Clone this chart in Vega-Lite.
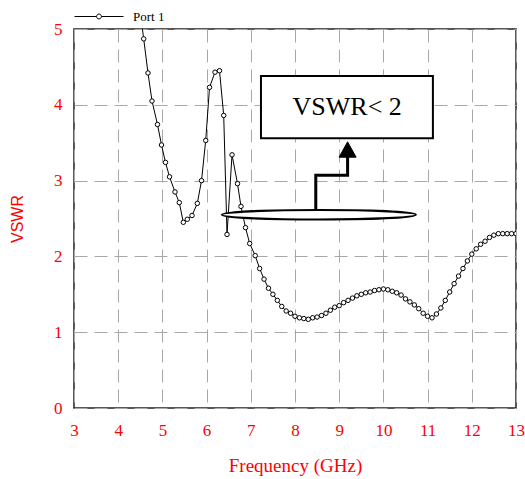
{
  "$schema": "https://vega.github.io/schema/vega-lite/v6.json",
  "width": 442,
  "height": 379,
  "autosize": {"type": "none"},
  "padding": {"left": 74, "top": 29, "right": 9, "bottom": 71},
  "background": "white",
  "config": {
    "view": {"stroke": "#222222", "strokeWidth": 1.5},
    "axis": {
      "domain": false,
      "ticks": false,
      "grid": true,
      "gridColor": "#a8a8a8",
      "gridDash": [13, 7],
      "gridWidth": 1,
      "labelColor": "#ff0000",
      "labelFont": "Liberation Serif",
      "labelFontSize": 17,
      "titleColor": "#ff0000",
      "titleFontWeight": "normal"
    }
  },
  "datasets": {
    "curve": [
      {"f": 4.48, "v": 5.31, "series": "Port 1"},
      {"f": 4.577, "v": 4.87, "series": "Port 1"},
      {"f": 4.674, "v": 4.42, "series": "Port 1"},
      {"f": 4.765, "v": 4.05, "series": "Port 1"},
      {"f": 4.889, "v": 3.74, "series": "Port 1"},
      {"f": 4.98, "v": 3.47, "series": "Port 1"},
      {"f": 5.07, "v": 3.24, "series": "Port 1"},
      {"f": 5.161, "v": 3.05, "series": "Port 1"},
      {"f": 5.285, "v": 2.85, "series": "Port 1"},
      {"f": 5.382, "v": 2.71, "series": "Port 1"},
      {"f": 5.473, "v": 2.45, "series": "Port 1"},
      {"f": 5.563, "v": 2.49, "series": "Port 1"},
      {"f": 5.67, "v": 2.54, "series": "Port 1"},
      {"f": 5.79, "v": 2.7, "series": "Port 1"},
      {"f": 5.885, "v": 3.0, "series": "Port 1"},
      {"f": 5.98, "v": 3.53, "series": "Port 1"},
      {"f": 6.066, "v": 4.23, "series": "Port 1"},
      {"f": 6.19, "v": 4.43, "series": "Port 1"},
      {"f": 6.292, "v": 4.45, "series": "Port 1"},
      {"f": 6.387, "v": 3.86, "series": "Port 1"},
      {"f": 6.462, "v": 2.29, "series": "Port 1"},
      {"f": 6.575, "v": 3.34, "series": "Port 1"},
      {"f": 6.699, "v": 2.96, "series": "Port 1"},
      {"f": 6.778, "v": 2.66, "series": "Port 1"},
      {"f": 6.88, "v": 2.38, "series": "Port 1"},
      {"f": 6.975, "v": 2.17, "series": "Port 1"},
      {"f": 7.1, "v": 2.01, "series": "Port 1"},
      {"f": 7.2, "v": 1.84, "series": "Port 1"},
      {"f": 7.3, "v": 1.7, "series": "Port 1"},
      {"f": 7.4, "v": 1.58, "series": "Port 1"},
      {"f": 7.5, "v": 1.5, "series": "Port 1"},
      {"f": 7.6, "v": 1.42, "series": "Port 1"},
      {"f": 7.7, "v": 1.34, "series": "Port 1"},
      {"f": 7.8, "v": 1.28, "series": "Port 1"},
      {"f": 7.9, "v": 1.25, "series": "Port 1"},
      {"f": 8.0, "v": 1.21, "series": "Port 1"},
      {"f": 8.1, "v": 1.19, "series": "Port 1"},
      {"f": 8.2, "v": 1.18, "series": "Port 1"},
      {"f": 8.3, "v": 1.17, "series": "Port 1"},
      {"f": 8.4, "v": 1.19, "series": "Port 1"},
      {"f": 8.5, "v": 1.2, "series": "Port 1"},
      {"f": 8.6, "v": 1.22, "series": "Port 1"},
      {"f": 8.7, "v": 1.25, "series": "Port 1"},
      {"f": 8.8, "v": 1.29, "series": "Port 1"},
      {"f": 8.9, "v": 1.33, "series": "Port 1"},
      {"f": 9.0, "v": 1.35, "series": "Port 1"},
      {"f": 9.1, "v": 1.39, "series": "Port 1"},
      {"f": 9.2, "v": 1.42, "series": "Port 1"},
      {"f": 9.3, "v": 1.45, "series": "Port 1"},
      {"f": 9.4, "v": 1.48, "series": "Port 1"},
      {"f": 9.5, "v": 1.5, "series": "Port 1"},
      {"f": 9.6, "v": 1.52, "series": "Port 1"},
      {"f": 9.7, "v": 1.53, "series": "Port 1"},
      {"f": 9.8, "v": 1.55, "series": "Port 1"},
      {"f": 9.9, "v": 1.56, "series": "Port 1"},
      {"f": 10.0, "v": 1.57, "series": "Port 1"},
      {"f": 10.1, "v": 1.56, "series": "Port 1"},
      {"f": 10.2, "v": 1.54, "series": "Port 1"},
      {"f": 10.3, "v": 1.52, "series": "Port 1"},
      {"f": 10.4, "v": 1.49, "series": "Port 1"},
      {"f": 10.5, "v": 1.44, "series": "Port 1"},
      {"f": 10.6, "v": 1.4, "series": "Port 1"},
      {"f": 10.7, "v": 1.36, "series": "Port 1"},
      {"f": 10.8, "v": 1.31, "series": "Port 1"},
      {"f": 10.9, "v": 1.25, "series": "Port 1"},
      {"f": 11.0, "v": 1.21, "series": "Port 1"},
      {"f": 11.1, "v": 1.19, "series": "Port 1"},
      {"f": 11.2, "v": 1.24, "series": "Port 1"},
      {"f": 11.3, "v": 1.32, "series": "Port 1"},
      {"f": 11.4, "v": 1.42, "series": "Port 1"},
      {"f": 11.5, "v": 1.53, "series": "Port 1"},
      {"f": 11.6, "v": 1.64, "series": "Port 1"},
      {"f": 11.7, "v": 1.74, "series": "Port 1"},
      {"f": 11.8, "v": 1.84, "series": "Port 1"},
      {"f": 11.9, "v": 1.94, "series": "Port 1"},
      {"f": 12.0, "v": 2.03, "series": "Port 1"},
      {"f": 12.1, "v": 2.1, "series": "Port 1"},
      {"f": 12.2, "v": 2.16, "series": "Port 1"},
      {"f": 12.3, "v": 2.2, "series": "Port 1"},
      {"f": 12.4, "v": 2.25, "series": "Port 1"},
      {"f": 12.5, "v": 2.28, "series": "Port 1"},
      {"f": 12.6, "v": 2.3, "series": "Port 1"},
      {"f": 12.7, "v": 2.3, "series": "Port 1"},
      {"f": 12.8, "v": 2.3, "series": "Port 1"},
      {"f": 12.9, "v": 2.3, "series": "Port 1"},
      {"f": 13.0, "v": 2.3, "series": "Port 1"}
    ],
    "ellipse": [{"f": 8.54, "v": 2.55}],
    "arrow": [
      {"f": 8.47, "v": 2.61, "k": 1},
      {"f": 8.47, "v": 3.07, "k": 2},
      {"f": 9.19, "v": 3.07, "k": 3},
      {"f": 9.19, "v": 3.33, "k": 4}
    ],
    "head": [{"f": 9.19, "v": 3.41}],
    "box": [{"f": 7.23, "f2": 11.12, "v": 3.56, "v2": 4.38, "label": "VSWR< 2", "fm": 9.18, "vm": 3.97}]
  },
  "layer": [
    {
      "data": {"name": "curve"},
      "mark": {"type": "line", "strokeWidth": 1, "clip": true},
      "encoding": {
        "x": {
          "field": "f", "type": "quantitative",
          "scale": {"domain": [3, 13], "nice": false, "zero": false},
          "axis": {
            "title": "Frequency (GHz)",
            "titleFont": "Liberation Serif",
            "titleFontSize": 19,
            "titlePadding": 18,
            "labelPadding": 14,
            "values": [3, 4, 5, 6, 7, 8, 9, 10, 11, 12, 13],
            "format": "d",
            "labelFlush": false
          }
        },
        "y": {
          "field": "v", "type": "quantitative",
          "scale": {"domain": [0, 5], "nice": false},
          "axis": {
            "title": "VSWR",
            "titleFont": "Liberation Sans",
            "titleFontSize": 16,
            "titlePadding": 28,
            "labelPadding": 12,
            "values": [0, 1, 2, 3, 4, 5],
            "format": "d",
            "labelFlush": false
          }
        },
        "color": {
          "field": "series", "type": "nominal",
          "scale": {"range": ["black"]},
          "legend": {
            "orient": "none",
            "legendX": 0,
            "legendY": -37.5,
            "title": null,
            "padding": 0,
            "symbolType": "M -1 0 L -0.1 0 M 0.1 0 L 1 0 M -0.1 0 A 0.1 0.1 0 1 0 0.1 0 A 0.1 0.1 0 1 0 -0.1 0",
            "symbolSize": 2401,
            "symbolFillColor": "white",
            "symbolStrokeColor": "black",
            "symbolStrokeWidth": 1,
            "labelFont": "Liberation Serif",
            "labelFontSize": 13,
            "labelColor": "black",
            "labelOffset": 9
          }
        }
      }
    },
    {
      "data": {"name": "curve"},
      "mark": {"type": "point", "shape": "circle", "size": 20, "fill": "white", "stroke": "black", "strokeWidth": 1, "opacity": 1, "filled": false, "clip": true},
      "encoding": {
        "x": {"field": "f", "type": "quantitative"},
        "y": {"field": "v", "type": "quantitative"}
      }
    },
    {
      "data": {"name": "ellipse"},
      "mark": {"type": "point", "shape": "M -1 0 A 1 0.0485 0 1 0 1 0 A 1 0.0485 0 1 0 -1 0 Z", "size": 37636, "fill": "white", "fillOpacity": 1, "stroke": "black", "strokeWidth": 2, "opacity": 1},
      "encoding": {
        "x": {"field": "f", "type": "quantitative"},
        "y": {"field": "v", "type": "quantitative"}
      }
    },
    {
      "data": {"name": "arrow"},
      "mark": {"type": "line", "color": "black", "strokeWidth": 3, "strokeJoin": "miter"},
      "encoding": {
        "x": {"field": "f", "type": "quantitative"},
        "y": {"field": "v", "type": "quantitative"},
        "order": {"field": "k", "type": "quantitative"}
      }
    },
    {
      "data": {"name": "head"},
      "mark": {"type": "point", "shape": "M 0 -0.9 L 1 0.9 L -1 0.9 Z", "size": 289, "fill": "black", "stroke": "black", "strokeWidth": 1, "opacity": 1},
      "encoding": {
        "x": {"field": "f", "type": "quantitative"},
        "y": {"field": "v", "type": "quantitative"}
      }
    },
    {
      "data": {"name": "box"},
      "mark": {"type": "rect", "fill": "white", "stroke": "black", "strokeWidth": 2},
      "encoding": {
        "x": {"field": "f", "type": "quantitative"},
        "x2": {"field": "f2"},
        "y": {"field": "v", "type": "quantitative"},
        "y2": {"field": "v2"}
      }
    },
    {
      "data": {"name": "box"},
      "mark": {"type": "text", "font": "Liberation Serif", "fontSize": 26, "color": "black", "align": "center", "baseline": "middle"},
      "encoding": {
        "x": {"field": "fm", "type": "quantitative"},
        "y": {"field": "vm", "type": "quantitative"},
        "text": {"field": "label"}
      }
    }
  ]
}
